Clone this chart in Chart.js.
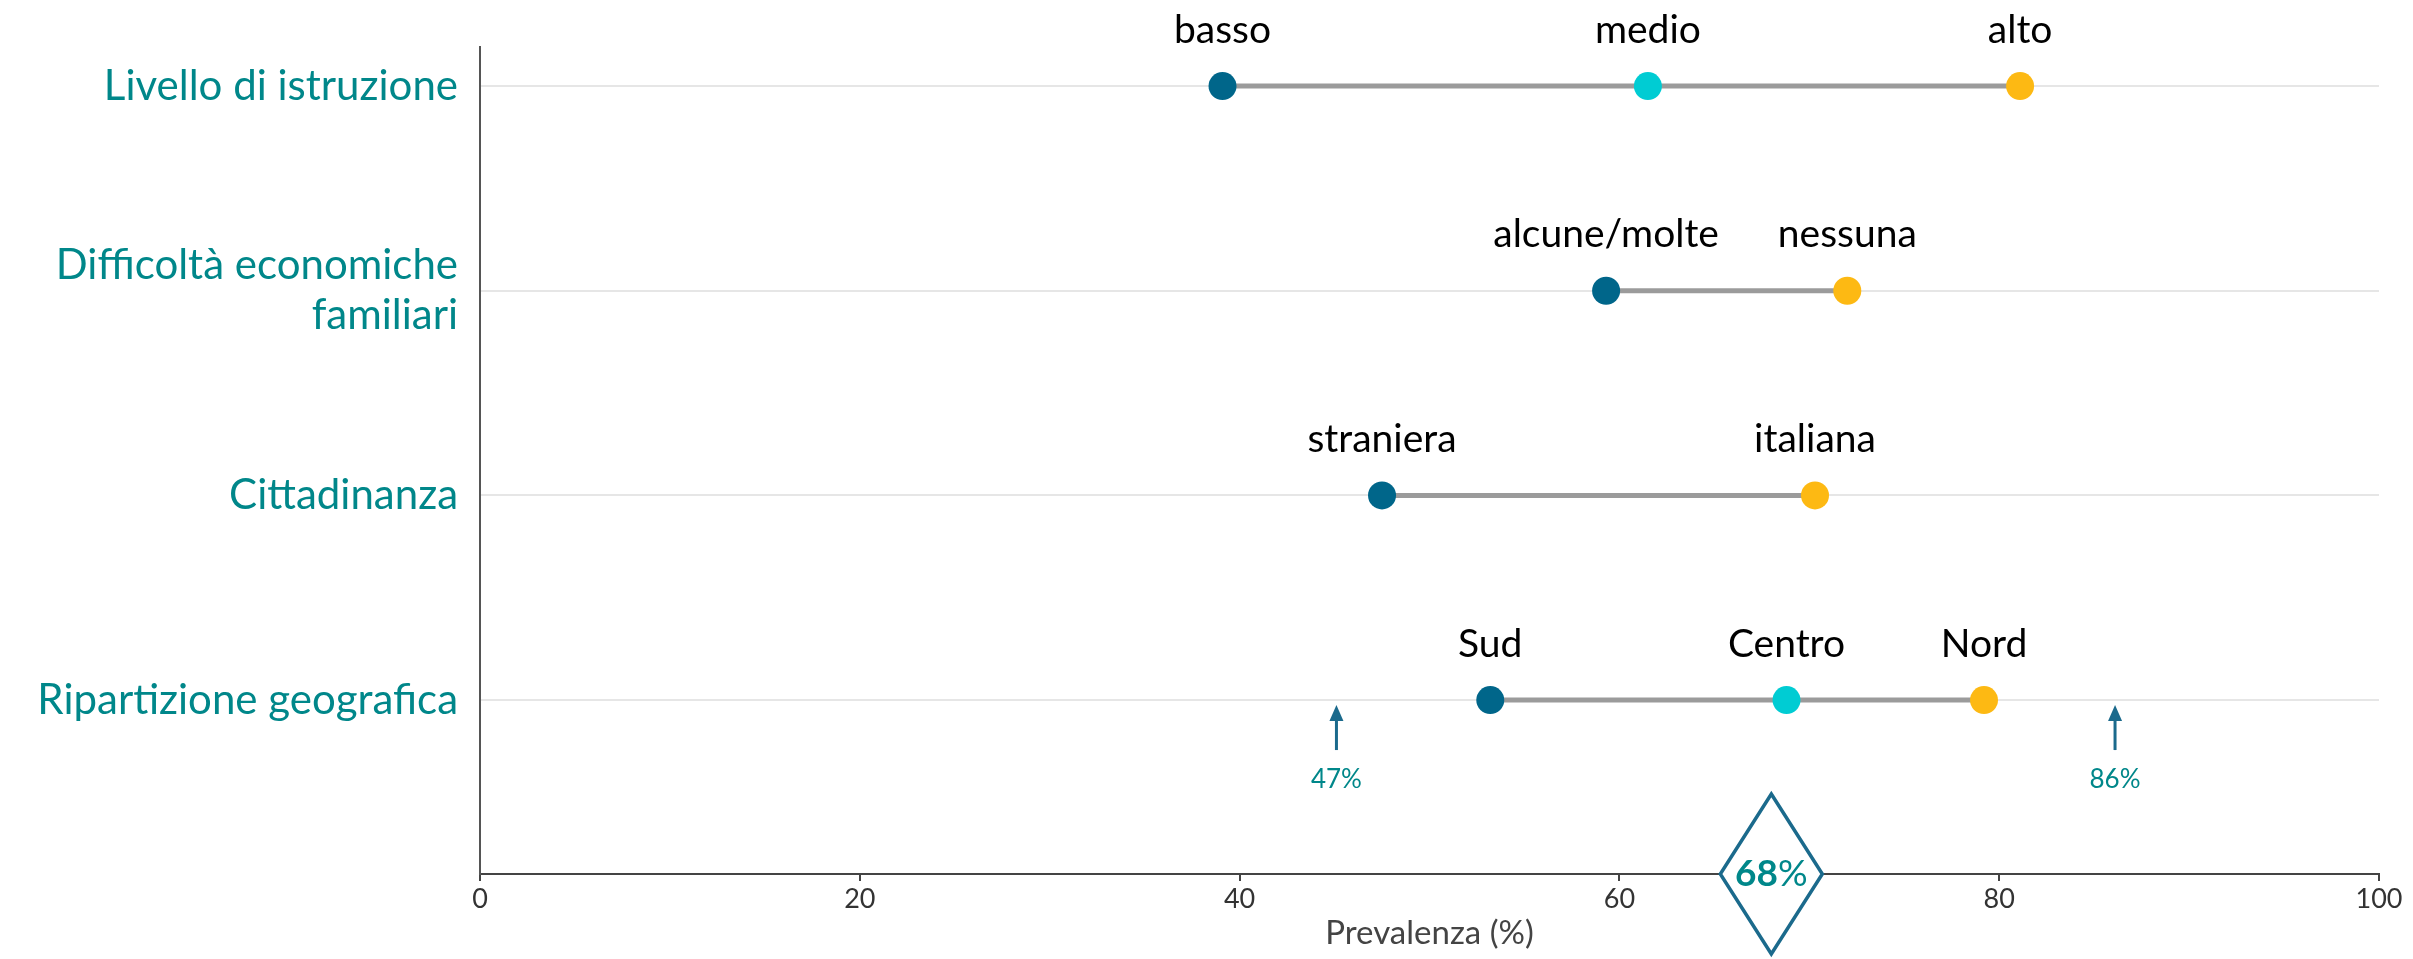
<!DOCTYPE html>
<html>
<head>
<meta charset="utf-8">
<script src="https://cdn.jsdelivr.net/npm/chart.js@4.4.0/dist/chart.umd.min.js"></script>
<style>
  html, body { margin:0; padding:0; background:#fff; }
  #wrap { width:2413px; height:959px; }
</style>
</head>
<body>
<div id="wrap"><canvas id="grafico"></canvas></div>
<script>
// dati
const categorie = [['Livello di istruzione'], ['Difficoltà economiche', 'familiari'], ['Cittadinanza'], ['Ripartizione geografica']];
const sottogruppi = [['basso', 'medio', 'alto'], ['alcune/molte', 'nessuna'], ['straniera', 'italiana'], ['Sud', 'Centro', 'Nord']];
const prevalenze = [[39.1, 61.5, 81.1], [59.3, 72.0], [47.5, 70.3], [53.2, 68.8, 79.2]];
const xTicks = [0, 20, 40, 60, 80, 100];
const mediaNazionale = 68;
const frecceRegioni = [45.1, 86.1];
const etichetteRegioni = ['47%', '86%'];

const BLU = '#00668A', CIANO = '#00CCD3', GIALLO = '#FDB913';
const TEAL = '#00878A', FONT = 'Lato, "Noto Sans", sans-serif';

const coloreDi = (n, j) => j === 0 ? BLU : (j === n - 1 ? GIALLO : CIANO);

const datasets = prevalenze.map((vals, i) => ({
  data: vals.map(v => ({ x: v, y: i })),
  showLine: true,
  borderColor: '#9B9B9B',
  borderWidth: 5,
  pointRadius: 14,
  pointHoverRadius: 14,
  pointBorderWidth: 0,
  pointBackgroundColor: vals.map((v, j) => coloreDi(vals.length, j))
}));

const annotazioni = {
  id: 'annotazioni',
  afterDatasetsDraw(chart) {
    const { ctx, scales: { x, y } } = chart;
    ctx.save();
    // etichette sopra i punti
    ctx.font = '39px ' + FONT;
    ctx.fillStyle = '#000';
    ctx.textAlign = 'center';
    ctx.textBaseline = 'middle';
    chart.data.datasets.forEach((ds, i) => {
      chart.getDatasetMeta(i).data.forEach((pt, j) => {
        ctx.fillText(sottogruppi[i][j], pt.x, pt.y - 56);
      });
    });
    // frecce min/max regionali
    const yR = y.getPixelForValue(3);
    frecceRegioni.forEach((v, k) => {
      const px = x.getPixelForValue(v);
      ctx.strokeStyle = '#1B6A8C';
      ctx.fillStyle = '#1B6A8C';
      ctx.lineWidth = 3;
      ctx.beginPath();
      ctx.moveTo(px, yR + 18);
      ctx.lineTo(px, yR + 50);
      ctx.stroke();
      ctx.beginPath();
      ctx.moveTo(px, yR + 5);
      ctx.lineTo(px - 7, yR + 21);
      ctx.lineTo(px + 7, yR + 21);
      ctx.closePath();
      ctx.fill();
      ctx.font = '26px ' + FONT;
      ctx.fillStyle = TEAL;
      ctx.fillText(etichetteRegioni[k], px, yR + 80);
    });
    // rombo con valore nazionale
    const cx = x.getPixelForValue(mediaNazionale), cy = chart.chartArea.bottom;
    ctx.beginPath();
    ctx.moveTo(cx, cy - 80);
    ctx.lineTo(cx + 51, cy);
    ctx.lineTo(cx, cy + 80);
    ctx.lineTo(cx - 51, cy);
    ctx.closePath();
    ctx.fillStyle = '#fff';
    ctx.fill();
    ctx.strokeStyle = '#1B6A8C';
    ctx.lineWidth = 3.5;
    ctx.stroke();
    ctx.fillStyle = TEAL;
    ctx.textBaseline = 'middle';
    const num = String(mediaNazionale);
    ctx.font = 'bold 37px ' + FONT;
    const wNum = ctx.measureText(num).width;
    ctx.font = '37px ' + FONT;
    const wPct = ctx.measureText('%').width;
    ctx.textAlign = 'left';
    const x0 = cx - (wNum + wPct) / 2;
    ctx.font = 'bold 37px ' + FONT;
    ctx.fillText(num, x0, cy);
    ctx.font = '37px ' + FONT;
    ctx.fillText('%', x0 + wNum, cy);
    ctx.restore();
  }
};

new Chart(document.getElementById('grafico'), {
  type: 'scatter',
  data: { datasets },
  plugins: [annotazioni],
  options: {
    responsive: true,
    maintainAspectRatio: false,
    animation: false,
    events: [],
    layout: { padding: { top: 36, right: 34, left: 0, bottom: 0 } },
    plugins: { legend: { display: false }, tooltip: { enabled: false } },
    scales: {
      x: {
        type: 'linear', min: 0, max: 100,
        afterBuildTicks: s => { s.ticks = xTicks.map(v => ({ value: v })); },
        afterFit: s => { s.height = 85; },
        ticks: { color: '#333', font: { family: FONT, size: 27 }, padding: 2 },
        grid: { drawOnChartArea: false, drawTicks: true, tickLength: 7, color: '#444', lineWidth: 2 },
        border: { color: '#444', width: 2 },
        title: { display: true, text: 'Prevalenza (%)', color: '#444', font: { family: FONT, size: 33 }, padding: { top: 0, bottom: 6 } }
      },
      y: {
        type: 'linear', reverse: true, min: -0.19, max: 3.85,
        afterBuildTicks: s => { s.ticks = categorie.map((c, i) => ({ value: i })); },
        afterFit: s => { s.width = 480; },
        ticks: { color: TEAL, font: { family: FONT, size: 42 }, padding: 22, callback: v => categorie[v] },
        grid: { color: '#E6E6E6', lineWidth: 2, drawTicks: false },
        border: { color: '#555', width: 2 }
      }
    }
  }
});
</script>
</body>
</html>
